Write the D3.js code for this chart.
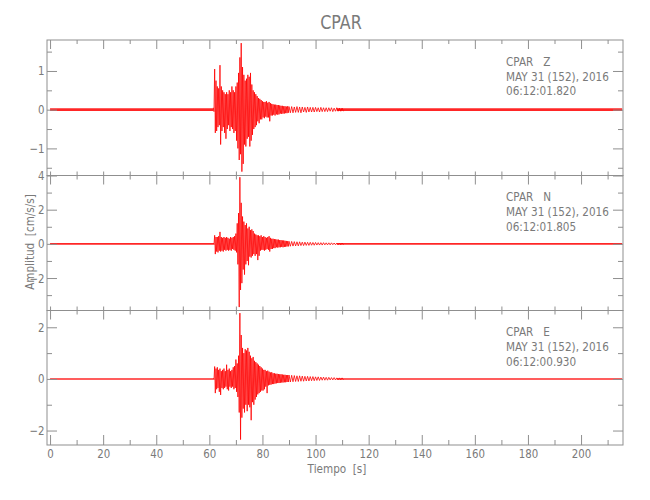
<!DOCTYPE html>
<html>
<head>
<meta charset="utf-8">
<script src="https://cdn.jsdelivr.net/npm/d3@7"></script>
<style>
  html, body { margin: 0; padding: 0; background: #fff; }
  svg text { font-family: "DejaVu Sans", sans-serif; fill: #7a7a7a; white-space: pre; }
</style>
</head>
<body>
<svg id="chart" width="650" height="500"></svg>
<script>
// ---------- DATA ----------
const title = "CPAR";
const components = ["Z", "N", "E"];
const stationLines = ["CPAR   Z", "CPAR   N", "CPAR   E"];
const dateLine = "MAY 31 (152), 2016";
const startTimes = ["06:12:01.820", "06:12:01.805", "06:12:00.930"];

// envelope sample times [s]
const sampleTimes = [
  61.5,62,62.5,63,63.5,64,64.5,65,65.5,66,
  66.5,67,67.5,68,68.5,69,69.5,70,70.5,71,
  71.5,72,72.5,73,73.5,74,74.5,75,75.5,76,
  76.5,77,77.5,78,78.5,79,79.5,80,80.5,81,
  81.5,82,82.5,83,83.5,84,84.5,85,85.5,86,
  86.5,87,87.5,88,88.5,89,89.5,90,
  91,92,93,94,95,96,97,98,99,100,
  101,102,103,104,105,106,107,108,109,110
];

// Z component envelope [cm/s/s]
const zUpper = [
  0.05,1.05,0.75,0.6,0.55,1.15,0.6,0.5,0.45,0.4,
  0.45,0.4,0.5,0.45,0.6,0.5,0.45,0.6,0.7,0.95,
  1.35,1.72,1.1,0.9,0.75,0.8,0.9,0.85,0.95,0.65,
  0.5,0.45,0.4,0.35,0.3,0.28,0.25,0.22,0.2,0.2,
  0.22,0.18,0.2,0.17,0.15,0.14,0.13,0.13,0.12,0.12,
  0.11,0.1,0.1,0.09,0.09,0.08,0.09,0.08,
  0.08,0.07,0.08,0.07,0.07,0.06,0.07,0.06,0.06,0.06,
  0.05,0.06,0.05,0.05,0.05,0.05,0.04,0.05,0.04,0.04
];
const zLower = [
  -0.05,-0.6,-0.55,-0.45,-0.4,-0.9,-0.55,-0.45,-0.6,-0.75,
  -0.5,-0.4,-0.55,-0.45,-0.5,-0.6,-0.55,-0.8,-1.0,-1.3,
  -1.15,-1.6,-1.4,-0.9,-0.95,-0.75,-0.7,-0.95,-0.8,-0.65,
  -0.5,-0.45,-0.4,-0.3,-0.35,-0.25,-0.25,-0.2,-0.22,-0.18,
  -0.2,-0.2,-0.3,-0.15,-0.15,-0.13,-0.15,-0.12,-0.13,-0.12,
  -0.1,-0.11,-0.1,-0.1,-0.09,-0.09,-0.08,-0.08,
  -0.08,-0.07,-0.07,-0.08,-0.06,-0.07,-0.06,-0.06,-0.06,-0.05,
  -0.06,-0.05,-0.05,-0.05,-0.04,-0.05,-0.04,-0.04,-0.04,-0.04
];

// N component envelope
const nUpper = [
  0.05,0.5,0.4,0.4,0.45,0.7,0.4,0.35,0.4,0.35,
  0.4,0.35,0.3,0.4,0.35,0.4,0.45,0.6,1.2,1.8,
  3.9,2.4,1.6,1.3,1.1,1.2,0.9,1.0,0.8,0.85,
  0.75,0.6,0.55,0.5,0.5,0.45,0.5,0.4,0.45,0.4,
  0.35,0.4,0.45,0.35,0.3,0.3,0.28,0.27,0.25,0.25,
  0.22,0.22,0.2,0.2,0.18,0.17,0.16,0.15,
  0.14,0.13,0.12,0.12,0.1,0.1,0.09,0.09,0.08,0.08,
  0.07,0.07,0.07,0.06,0.06,0.06,0.05,0.05,0.05,0.05
];
const nLower = [
  -0.05,-0.6,-0.45,-0.5,-0.4,-0.45,-0.4,-0.45,-0.35,-0.4,
  -0.35,-0.4,-0.35,-0.4,-0.3,-0.35,-0.4,-0.5,-1.2,-3.7,
  -2.7,-2.3,-1.5,-1.8,-1.2,-1.0,-1.25,-0.75,-0.8,-0.7,
  -0.6,-0.7,-0.6,-0.95,-0.7,-0.4,-0.35,-0.35,-0.4,-0.35,
  -0.3,-0.35,-0.45,-0.3,-0.3,-0.25,-0.25,-0.2,-0.22,-0.2,
  -0.2,-0.18,-0.2,-0.18,-0.17,-0.15,-0.15,-0.14,
  -0.13,-0.12,-0.12,-0.1,-0.1,-0.09,-0.09,-0.08,-0.08,-0.07,
  -0.07,-0.07,-0.06,-0.06,-0.06,-0.05,-0.05,-0.05,-0.05,-0.05
];

// E component envelope
const eUpper = [
  0.03,0.48,0.4,0.45,0.35,0.4,0.3,0.35,0.4,0.3,
  0.55,0.35,0.4,0.3,0.35,0.45,0.5,0.75,0.6,0.9,
  2.55,1.7,1.2,1.0,1.15,1.1,1.2,1.05,0.9,0.8,
  0.85,0.7,0.65,0.6,0.55,0.5,0.45,0.4,0.35,0.35,
  0.3,0.32,0.28,0.25,0.26,0.22,0.22,0.2,0.2,0.19,
  0.18,0.18,0.17,0.16,0.16,0.15,0.15,0.15,
  0.14,0.13,0.12,0.12,0.11,0.1,0.1,0.09,0.09,0.08,
  0.08,0.07,0.07,0.06,0.06,0.05,0.05,0.04,0.04,0.04
];
const eLower = [
  -0.03,-0.55,-0.4,-0.35,-0.5,-0.62,-0.35,-0.4,-0.35,-0.3,
  -0.4,-0.45,-0.3,-0.35,-0.3,-0.4,-0.35,-0.5,-0.7,-1.3,
  -2.35,-1.5,-1.15,-1.3,-1.0,-1.25,-1.0,-1.1,-1.6,-0.9,
  -1.0,-0.8,-0.7,-0.6,-0.55,-0.5,-0.45,-0.45,-0.4,-0.3,
  -0.55,-0.25,-0.23,-0.22,-0.2,-0.2,-0.18,-0.17,-0.16,-0.16,
  -0.15,-0.14,-0.14,-0.13,-0.13,-0.12,-0.12,-0.12,
  -0.11,-0.1,-0.1,-0.09,-0.09,-0.08,-0.08,-0.07,-0.07,-0.06,
  -0.06,-0.05,-0.05,-0.05,-0.04,-0.04,-0.04,-0.03,-0.03,-0.03
];

// background noise half-amplitude before/after the event
const noiseLevels = [0.035, 0.055, 0.03];
const quietSegments = [[0, 61.5], [108, 215.5]];

// axis ranges and ticks
const timeDomain = [-1.15, 215.8];
const timeMajorTicks = [0, 20, 40, 60, 80, 100, 120, 140, 160, 180, 200];
const timeMinorTicks = [10, 30, 50, 70, 90, 110, 130, 150, 170, 190, 210];
const ampDomains = [[-1.70, 1.80], [-3.9, 4.0], [-2.56, 2.65]];
const ampMajorTicks = [[-1, 0, 1], [-2, 0, 2, 4], [-2, 0, 2]];
const ampMinorTicks = [[-1.5, -0.5, 0.5, 1.5], [-3, -1, 1, 3], [-1, 1]];

const uppers = [zUpper, nUpper, eUpper];
const lowers = [zLower, nLower, eLower];

// ---------- LAYOUT ----------
const svg = d3.select("#chart");
const left = 47, right = 623;
const panelTops = [40, 175.5, 310.5];
const panelBottoms = [175.5, 310.5, 445];
const axisColor = "#8f8f8f";
const traceColor = "#ff0000";
const fmt = d3.format("");

const x = d3.scaleLinear().domain(timeDomain).range([left, right]);

svg.append("text").attr("x", 341).attr("y", 29.5).attr("text-anchor", "middle")
  .style("font-size", "19.5px").text(title);

function styleAxis(g) {
  g.select(".domain").remove();
  g.selectAll(".tick line").attr("stroke", axisColor).attr("stroke-width", 1);
  g.selectAll(".tick text").style("font-size", "12.5px").attr("fill", "#7a7a7a")
    .attr("font-family", null);
}

components.forEach((comp, i) => {
  const y = d3.scaleLinear().domain(ampDomains[i]).range([panelBottoms[i], panelTops[i]]);
  const g = svg.append("g");

  // quiet parts of the trace: noise band
  const band = d3.area().x(d => x(d)).y0(y(-noiseLevels[i])).y1(y(noiseLevels[i]));
  quietSegments.forEach(seg => {
    g.append("path").datum(seg).attr("d", band).attr("fill", traceColor).attr("opacity", 0.85);
  });

  // event: zig-zag between upper and lower envelope values
  const pts = [];
  sampleTimes.forEach((t, k) => {
    const step = k + 1 < sampleTimes.length ? (sampleTimes[k + 1] - t) / 2 : 0.5;
    pts.push([t, uppers[i][k]]);
    pts.push([t + step, lowers[i][k]]);
  });
  const line = d3.line().x(d => x(d[0])).y(d => y(d[1]));
  g.append("path").datum(pts).attr("d", line)
    .attr("fill", "none").attr("stroke", traceColor).attr("stroke-width", 0.8)
    .attr("stroke-linejoin", "miter");

  // frame
  g.append("rect").attr("x", left).attr("y", panelTops[i])
    .attr("width", right - left).attr("height", panelBottoms[i] - panelTops[i])
    .attr("fill", "none").attr("stroke", axisColor).attr("stroke-width", 1);

  // y axes
  g.append("g").attr("transform", `translate(${left},0)`)
    .call(d3.axisLeft(y).tickValues(ampMajorTicks[i]).tickFormat(fmt)
      .tickSizeInner(-10).tickSizeOuter(0).tickPadding(2.5))
    .call(styleAxis);
  g.append("g").attr("transform", `translate(${left},0)`)
    .call(d3.axisLeft(y).tickValues(ampMinorTicks[i]).tickSizeInner(-5).tickSizeOuter(0).tickFormat(""))
    .call(styleAxis);
  g.append("g").attr("transform", `translate(${right},0)`)
    .call(d3.axisRight(y).tickValues(ampMajorTicks[i]).tickSizeInner(-10).tickSizeOuter(0).tickFormat(""))
    .call(styleAxis);
  g.append("g").attr("transform", `translate(${right},0)`)
    .call(d3.axisRight(y).tickValues(ampMinorTicks[i]).tickSizeInner(-5).tickSizeOuter(0).tickFormat(""))
    .call(styleAxis);

  // x axes (top and bottom of each panel)
  g.append("g").attr("transform", `translate(0,${panelTops[i]})`)
    .call(d3.axisTop(x).tickValues(timeMajorTicks).tickSizeInner(-9).tickSizeOuter(0).tickFormat(""))
    .call(styleAxis);
  g.append("g").attr("transform", `translate(0,${panelTops[i]})`)
    .call(d3.axisTop(x).tickValues(timeMinorTicks).tickSizeInner(-4).tickSizeOuter(0).tickFormat(""))
    .call(styleAxis);
  const bottomMajor = d3.axisBottom(x).tickValues(timeMajorTicks).tickSizeInner(i === 2 ? -10 : -4)
    .tickSizeOuter(0).tickPadding(4.5);
  bottomMajor.tickFormat(i === 2 ? fmt : "");
  g.append("g").attr("transform", `translate(0,${panelBottoms[i]})`).call(bottomMajor).call(styleAxis);
  g.append("g").attr("transform", `translate(0,${panelBottoms[i]})`)
    .call(d3.axisBottom(x).tickValues(timeMinorTicks).tickSizeInner(i === 2 ? -5 : -4).tickSizeOuter(0).tickFormat(""))
    .call(styleAxis);

  // annotation
  const ann = g.append("g");
  [stationLines[i], dateLine, startTimes[i]].forEach((s, k) => {
    ann.append("text").attr("class", "ann").attr("x", 506).attr("y", panelTops[i] + 26 + k * 14.6)
      .style("font-size", "12.8px").text(s);
  });
});

svg.append("text").attr("class", "ylab").attr("transform", "translate(30,242) rotate(-90)")
  .attr("text-anchor", "middle").attr("dominant-baseline", "central")
  .style("font-size", "12.8px").text("Amplitud  [cm/s/s]");

svg.append("text").attr("x", 337).attr("y", 473).attr("text-anchor", "middle")
  .style("font-size", "12.8px").text("Tiempo  [s]");

// Narrow (Hershey-like) lettering: compress all text horizontally
const probe = svg.selectAll("text.ann").nodes()[1];
const squeeze = Math.min(1, 103 / probe.getComputedTextLength());
svg.selectAll("text").each(function () {
  const t = d3.select(this);
  if (t.classed("ylab")) {
    t.attr("transform", t.attr("transform") + ` scale(${squeeze},1)`);
    return;
  }
  const tx = parseFloat(t.attr("x")) || 0;
  const prev = t.attr("transform") || "";
  t.attr("transform", `${prev} translate(${tx},0) scale(${squeeze},1) translate(${-tx},0)`);
});
</script>
</body>
</html>
